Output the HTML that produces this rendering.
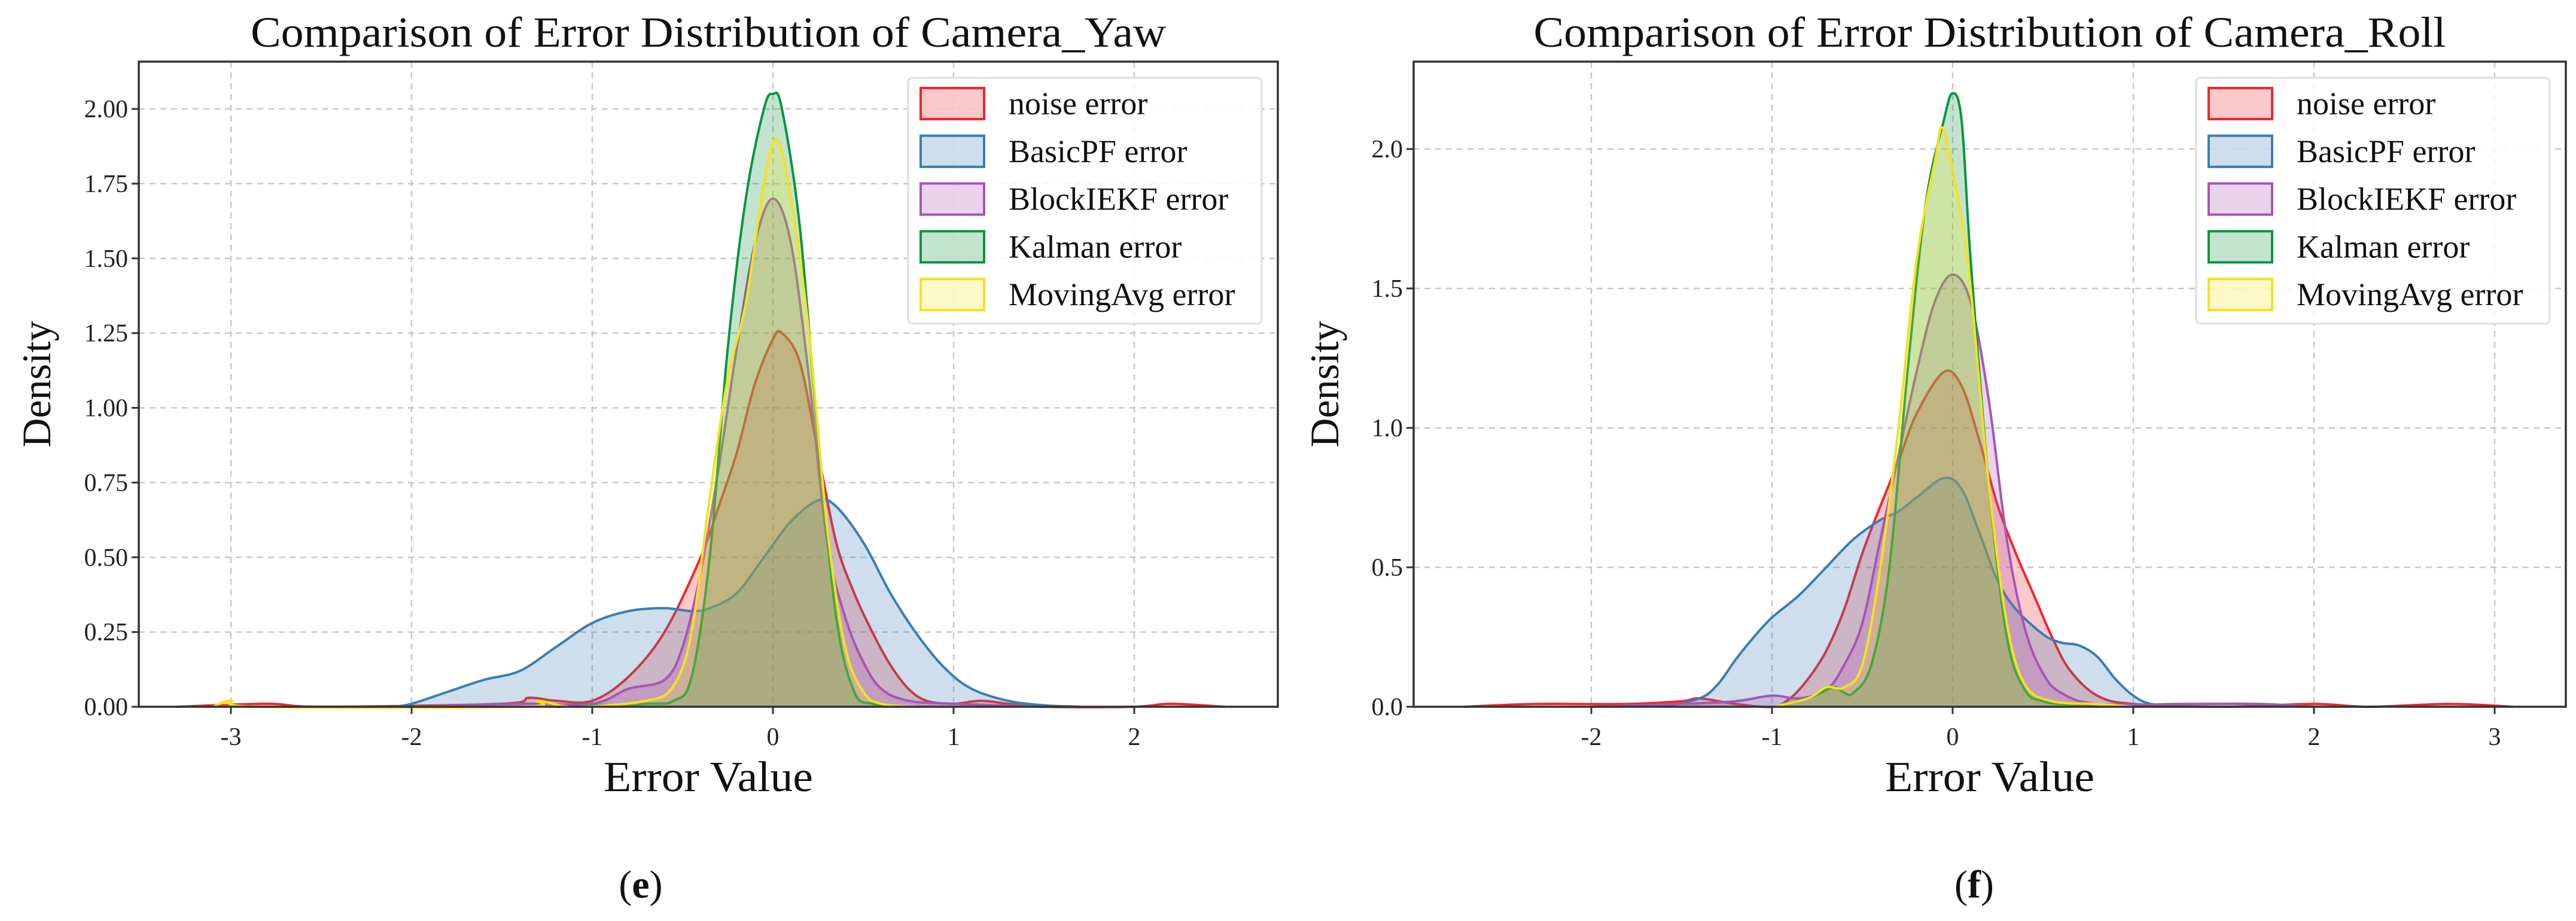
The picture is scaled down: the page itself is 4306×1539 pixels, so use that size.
<!DOCTYPE html>
<html><head><meta charset="utf-8">
<style>
html,body{margin:0;padding:0;background:#fff;}
svg{display:block;font-family:"Liberation Serif",serif;}
</style></head>
<body>
<svg id="fig" width="4306" height="1539" viewBox="0 0 4306 1539" xmlns="http://www.w3.org/2000/svg"></svg>
<script>
// ---- Data: Camera_Yaw ----
const yawNoiseX=[-3.3,-2.8,-2.5,-1.5,-1.35,-1.2,-1.0,-0.8,-0.6,-0.4,-0.3,-0.2,-0.1,0,0.05,0.15,0.25,0.35,0.45,0.55,0.65,0.75,0.85,1.0,1.15,1.3,1.5,2.0,2.2,2.5];
const yawNoiseY=[0,0.01,0,0.01,0.03,0.02,0.02,0.1,0.25,0.5,0.67,0.85,1.08,1.23,1.25,1.15,0.85,0.55,0.38,0.25,0.14,0.06,0.02,0.01,0.02,0.01,0,0,0.01,0];
const yawPFX=[-2.1,-2.0,-1.8,-1.6,-1.4,-1.2,-1.0,-0.8,-0.6,-0.45,-0.35,-0.2,-0.05,0.1,0.25,0.35,0.5,0.65,0.8,0.95,1.1,1.3,1.5,1.7];
const yawPFY=[0,0.01,0.05,0.09,0.12,0.2,0.28,0.32,0.33,0.32,0.33,0.38,0.5,0.62,0.69,0.67,0.55,0.38,0.24,0.13,0.06,0.02,0.005,0];
const yawIEKFX=[-2,-1.4,-1.0,-0.8,-0.6,-0.5,-0.4,-0.3,-0.2,-0.1,0,0.1,0.2,0.3,0.4,0.5,0.6,0.75,1.0,1.5];
const yawIEKFY=[0,0.01,0.01,0.06,0.09,0.2,0.45,0.8,1.2,1.55,1.7,1.55,1.1,0.55,0.3,0.15,0.06,0.02,0.01,0];
const yawKalX=[-1.2,-0.7,-0.55,-0.45,-0.35,-0.25,-0.15,-0.05,0,0.05,0.15,0.25,0.35,0.45,0.55,0.7];
const yawKalY=[0,0.01,0.02,0.1,0.5,1.2,1.7,2.0,2.05,2.0,1.6,0.9,0.3,0.05,0.01,0];
const yawMAX=[-3.1,-3.0,-2.85,-1.4,-1.3,-1.1,-0.7,-0.55,-0.45,-0.35,-0.25,-0.15,-0.05,0.02,0.1,0.2,0.3,0.4,0.5,0.6,0.8];
const yawMAY=[0,0.02,0,0,0.02,0,0.02,0.07,0.25,0.7,1.1,1.35,1.75,1.9,1.7,1.25,0.6,0.2,0.05,0.01,0];
const yawXTicks=[-3,-2,-1,0,1,2];
const yawYTicks=[0,0.25,0.5,0.75,1.0,1.25,1.5,1.75,2.0];
const yawYLabels=["0.00","0.25","0.50","0.75","1.00","1.25","1.50","1.75","2.00"];
// ---- Data: Camera_Roll ----
const rollNoiseX=[-2.7,-2.3,-1.8,-1.5,-1.4,-1.2,-1.0,-0.9,-0.8,-0.7,-0.6,-0.5,-0.4,-0.3,-0.2,-0.05,0.05,0.15,0.25,0.35,0.45,0.55,0.65,0.8,1.0,1.5,2.0,2.3,2.75,3.1];
const rollNoiseY=[0,0.01,0.01,0.02,0.03,0.01,0,0.03,0.1,0.2,0.35,0.55,0.72,0.88,1.05,1.2,1.15,0.95,0.72,0.55,0.4,0.25,0.13,0.04,0.01,0,0.01,0,0.01,0];
const rollPFX=[-1.6,-1.4,-1.3,-1.2,-1.1,-1.0,-0.85,-0.7,-0.55,-0.4,-0.3,-0.2,-0.05,0.05,0.15,0.25,0.35,0.5,0.6,0.7,0.8,0.9,1.0,1.1,1.3];
const rollPFY=[0,0.03,0.08,0.17,0.25,0.32,0.4,0.5,0.6,0.67,0.7,0.75,0.82,0.78,0.62,0.45,0.35,0.26,0.23,0.22,0.18,0.1,0.04,0.01,0];
const rollIEKFX=[-2,-1.5,-1.2,-1.0,-0.85,-0.7,-0.6,-0.5,-0.4,-0.3,-0.2,-0.1,0,0.1,0.2,0.3,0.4,0.5,0.6,0.8,1.3,1.7,2];
const rollIEKFY=[0,0.01,0.02,0.04,0.03,0.06,0.15,0.3,0.6,0.9,1.2,1.45,1.55,1.45,1.1,0.6,0.28,0.12,0.05,0.01,0.01,0.01,0];
const rollKalX=[-1.0,-0.8,-0.7,-0.65,-0.6,-0.55,-0.45,-0.35,-0.25,-0.15,-0.05,0,0.05,0.1,0.2,0.3,0.4,0.5,0.6,0.8];
const rollKalY=[0,0.03,0.06,0.07,0.05,0.05,0.15,0.5,1.2,1.8,2.1,2.2,2.1,1.6,0.8,0.25,0.06,0.02,0.01,0];
const rollMAX=[-1.0,-0.8,-0.7,-0.6,-0.5,-0.4,-0.3,-0.2,-0.1,-0.05,0.05,0.1,0.2,0.3,0.4,0.55,0.8,1.0];
const rollMAY=[0,0.03,0.07,0.07,0.15,0.5,1.0,1.6,1.95,2.07,1.75,1.5,0.8,0.3,0.08,0.02,0.01,0];
const rollXTicks=[-2,-1,0,1,2,3];
const rollYTicks=[0,0.5,1.0,1.5,2.0];
const rollYLabels=["0.0","0.5","1.0","1.5","2.0"];
const legendLabels=["noise error","BasicPF error","BlockIEKF error","Kalman error","MovingAvg error"];

const NS="http://www.w3.org/2000/svg";
const svg=document.getElementById('fig');
const colors=["#f2262b","#3a7db3","#a655b5","#0b9440","#f3e222"];
function mk(tag,attrs,parent){const e=document.createElementNS(NS,tag);for(const k in attrs)e.setAttribute(k,attrs[k]);(parent||svg).appendChild(e);return e;}
function smooth(pts){let d="M"+pts[0][0]+","+pts[0][1];for(let i=0;i<pts.length-1;i++){const p0=pts[Math.max(0,i-1)],p1=pts[i],p2=pts[i+1],p3=pts[Math.min(pts.length-1,i+2)];
const c1x=p1[0]+(p2[0]-p0[0])/6,c1y=p1[1]+(p2[1]-p0[1])/6,c2x=p2[0]-(p3[0]-p1[0])/6,c2y=p2[1]-(p3[1]-p1[1])/6;
d+=" C"+c1x.toFixed(1)+","+c1y.toFixed(1)+" "+c2x.toFixed(1)+","+c2y.toFixed(1)+" "+p2[0].toFixed(1)+","+p2[1].toFixed(1);}return d;}

function chart(cfg){
 const g=mk('g',{});
 
 
 const L=cfg.left,R=cfg.right,T=103,B=1181;
 const sx=v=>cfg.x0+v*cfg.ux, sy=v=>B-v*cfg.uy;
 cfg.xt.forEach(v=>{const l=mk('line',{x1:sx(v),x2:sx(v),y1:T,y2:B,stroke:"#c8c8c8","stroke-width":2.5,"stroke-dasharray":"10,8"},g);
  });
 cfg.yt.forEach(v=>{const l=mk('line',{x1:L,x2:R,y1:sy(v),y2:sy(v),stroke:"#c8c8c8","stroke-width":2.5,"stroke-dasharray":"10,8"},g);
  });
 cfg.series.forEach((s,i)=>{
  const pts=s[0].map((x,j)=>[sx(x),sy(s[1][j])]);
  const d=smooth(pts);
  const f=mk('path',{d:d+" L"+pts[pts.length-1][0]+","+B+" L"+pts[0][0]+","+B+" Z",fill:colors[i],"fill-opacity":0.25,stroke:"none"},g);
  
  const p=mk('path',{d:d,fill:"none",stroke:colors[i],"stroke-width":4},g);
  
 });
 const fr=mk('rect',{x:L,y:T,width:R-L,height:B-T,fill:"none",stroke:"#333","stroke-width":3.5},g);
 
 cfg.xt.forEach(v=>{mk('line',{x1:sx(v),x2:sx(v),y1:B,y2:B+12,stroke:"#333","stroke-width":3},g);
  const t=mk('text',{x:sx(v),y:B+64,"text-anchor":"middle","font-size":42,fill:"#222"},g);t.textContent=String(v);
  });
 cfg.yt.forEach((v,i)=>{mk('line',{x1:L-12,x2:L,y1:sy(v),y2:sy(v),stroke:"#333","stroke-width":3},g);
  const t=mk('text',{x:L-18,y:sy(v)+14,"text-anchor":"end","font-size":42,fill:"#222"},g);t.textContent=cfg.yl[i];
  });
 const tt=mk('text',{x:(L+R)/2,y:78,"text-anchor":"middle","font-size":72,fill:"#111",textLength:cfg.titleW,lengthAdjust:"spacingAndGlyphs"},g);
 tt.textContent=cfg.title;
 const xl=mk('text',{x:(L+R)/2,y:1322,"text-anchor":"middle","font-size":72,fill:"#111",textLength:350,lengthAdjust:"spacingAndGlyphs"},g);
 xl.textContent="Error Value";
 const yl=mk('text',{x:0,y:0,"text-anchor":"middle","font-size":68,fill:"#111",transform:`translate(${cfg.ylx},642) rotate(-90)`},g);
 yl.textContent="Density";
 const cp=mk('text',{x:cfg.capx,y:1500,"text-anchor":"middle","font-size":66,fill:"#111"},g);
 cp.innerHTML='(<tspan font-weight="bold">'+cfg.cap+'</tspan>)';
 const lg=mk('g',{},g);
 mk('rect',{x:cfg.lgx,y:130,width:591,height:411,rx:8,fill:"#fff","fill-opacity":0.85,stroke:"#ddd","stroke-width":3},lg);
 legendLabels.forEach((lab,i)=>{const y=173+i*79.8;
  const e=mk('g',{},lg);
  mk('rect',{x:cfg.lgx+21,y:y-26,width:106,height:52,fill:colors[i],"fill-opacity":0.25,stroke:colors[i],"stroke-width":4},e);
  const t=mk('text',{x:cfg.lgx+168,y:y+18,"font-size":54,fill:"#111"},e);t.textContent=lab;});
}
const keys=["noise","basicpf","blockiekf","kalman","movingavg"];
chart({name:"yaw-chart",left:232,right:2136,x0:1292,ux:302,uy:499.5,xt:yawXTicks,yt:yawYTicks,yl:yawYLabels,
 title:"Comparison of Error Distribution of Camera_Yaw",titleW:1530,ylx:84,capx:1071,cap:"e",lgx:1518,keys:keys,
 series:[[yawNoiseX,yawNoiseY],[yawPFX,yawPFY],[yawIEKFX,yawIEKFY],[yawKalX,yawKalY],[yawMAX,yawMAY]]});
chart({name:"roll-chart",left:2363,right:4289,x0:3264,ux:302,uy:466,xt:rollXTicks,yt:rollYTicks,yl:rollYLabels,
 title:"Comparison of Error Distribution of Camera_Roll",titleW:1525,ylx:2237,capx:3300,cap:"f",lgx:3671,keys:keys,
 series:[[rollNoiseX,rollNoiseY],[rollPFX,rollPFY],[rollIEKFX,rollIEKFY],[rollKalX,rollKalY],[rollMAX,rollMAY]]});
</script>
</body></html>
